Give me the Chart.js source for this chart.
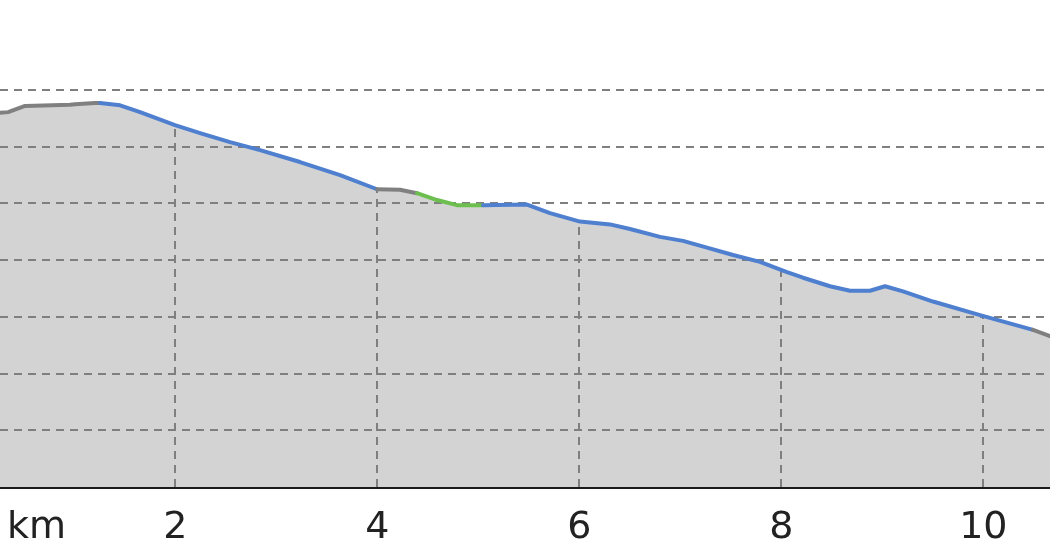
<!DOCTYPE html>
<html>
<head>
<meta charset="utf-8">
<script src="https://cdn.jsdelivr.net/npm/chart.js@4.4.1/dist/chart.umd.min.js"></script>
<style>
  html, body { margin: 0; padding: 0; background: #ffffff; }
  #wrap { width: 1050px; height: 560px; }
</style>
</head>
<body>
<div id="wrap"><canvas id="c" width="1050" height="560"></canvas></div>
<script>
// Distance along route (km)
const distanceKm = [0.214, 0.344, 0.512, 0.957, 1.007, 1.205, 1.254, 1.453, 1.651, 1.997,
  2.245, 2.542, 2.839, 3.235, 3.631, 3.997, 4.225, 4.393, 4.591, 4.789,
  5.047, 5.482, 5.710, 6.007, 6.304, 6.502, 6.799, 7.027, 7.264, 7.522,
  7.789, 8.056, 8.215, 8.482, 8.680, 8.878, 9.027, 9.205, 9.502, 9.967,
  10.492, 10.710];
// Elevation (m)
const elevationM = [165.9, 166.1, 167.2, 167.4, 167.5, 167.7, 167.7, 167.3, 166.1, 163.8,
  162.4, 160.8, 159.4, 157.3, 155.0, 152.5, 152.4, 151.8, 150.6, 149.7,
  149.7, 149.8, 148.3, 146.8, 146.3, 145.5, 144.1, 143.4, 142.2, 140.9,
  139.7, 137.9, 136.9, 135.4, 134.6, 134.6, 135.4, 134.5, 132.7, 130.3,
  127.7, 126.3];
// Surface type of the segment that starts at each point
const surfaceType = ['unknown','unknown','unknown','unknown','unknown','unknown',
  'paved','paved','paved','paved','paved','paved','paved','paved','paved',
  'unknown','unknown',
  'gravel','gravel','gravel',
  'paved','paved','paved','paved','paved','paved','paved','paved','paved','paved',
  'paved','paved','paved','paved','paved','paved','paved','paved','paved','paved',
  'unknown','unknown'];
const xTickValues = [2, 4, 6, 8, 10];
const xRange = [0.264, 10.66];
const yRange = [100, 170];
const yStep = 10;
const axisUnitLabel = 'km';

const surfaceColors = { unknown: '#808080', paved: '#4f7fcf', gravel: '#6cbf4f' };
const FILL_COLOR = '#d3d3d3';
const GRID_COLOR = '#7f7f7f';
const FONT = '"DejaVu Sans", sans-serif';
const FONT_SIZE = 38;

const points = distanceKm.map((d, i) => ({ x: d, y: elevationM[i] }));

function elevationAt(km) {
  for (let i = 0; i < distanceKm.length - 1; i++) {
    if (km >= distanceKm[i] && km <= distanceKm[i + 1]) {
      const t = (km - distanceKm[i]) / (distanceKm[i + 1] - distanceKm[i]);
      return elevationM[i] + t * (elevationM[i + 1] - elevationM[i]);
    }
  }
  return elevationM[elevationM.length - 1];
}

const profileGrid = {
  id: 'profileGrid',
  afterDatasetDraw(chart, args) {
    if (args.index !== 0) return;
    const { ctx, chartArea, scales: { x, y } } = chart;
    ctx.save();
    ctx.strokeStyle = GRID_COLOR;
    ctx.lineWidth = 2;
    ctx.setLineDash([8, 6]);
    y.ticks.forEach(t => {
      if (t.value <= y.min) return;
      const py = Math.round(y.getPixelForValue(t.value));
      ctx.beginPath();
      ctx.moveTo(chartArea.left, py);
      ctx.lineTo(chartArea.right, py);
      ctx.stroke();
    });
    x.ticks.forEach(t => {
      const px = Math.round(x.getPixelForValue(t.value));
      const py = y.getPixelForValue(elevationAt(t.value));
      ctx.beginPath();
      ctx.moveTo(px, chartArea.bottom);
      ctx.lineTo(px, py);
      ctx.stroke();
    });
    ctx.restore();
  },
  afterDraw(chart) {
    const { ctx, scales: { x } } = chart;
    ctx.save();
    ctx.font = FONT_SIZE + 'px ' + FONT;
    ctx.fillStyle = '#222222';
    ctx.textAlign = 'left';
    ctx.textBaseline = 'middle';
    const yLabel = x.top + x.options.ticks.padding + FONT_SIZE * 1.2 / 2;
    ctx.fillText(axisUnitLabel, 7, yLabel);
    ctx.restore();
  }
};

new Chart(document.getElementById('c'), {
  type: 'line',
  data: {
    datasets: [
      {
        data: points,
        order: 2,
        borderWidth: 0,
        pointRadius: 0,
        backgroundColor: FILL_COLOR,
        fill: 'start',
        tension: 0
      },
      {
        data: points,
        order: 1,
        borderWidth: 4,
        pointRadius: 0,
        fill: false,
        tension: 0,
        borderJoinStyle: 'round',
        borderCapStyle: 'round',
        borderColor: surfaceColors.paved,
        segment: {
          borderColor: ctx => surfaceColors[surfaceType[ctx.p0DataIndex]]
        }
      }
    ]
  },
  options: {
    responsive: false,
    animation: false,
    devicePixelRatio: 1,
    layout: { padding: { top: 90, left: 0, right: 0, bottom: 0 } },
    plugins: { legend: { display: false }, tooltip: { enabled: false } },
    scales: {
      x: {
        type: 'linear',
        min: xRange[0],
        max: xRange[1],
        z: 1,
        afterBuildTicks: scale => { scale.ticks = xTickValues.map(v => ({ value: v })); },
        afterFit: scale => { scale.height = 73; },
        ticks: {
          padding: 18,
          color: '#222222',
          font: { family: FONT, size: FONT_SIZE },
          maxRotation: 0,
          autoSkip: false,
          callback: v => String(v)
        },
        grid: { display: false, drawTicks: false, tickLength: 0 },
        border: { display: true, color: '#1a1a1a', width: 3 }
      },
      y: {
        display: false,
        min: yRange[0],
        max: yRange[1],
        ticks: { stepSize: yStep }
      }
    }
  },
  plugins: [profileGrid]
});
</script>
</body>
</html>
